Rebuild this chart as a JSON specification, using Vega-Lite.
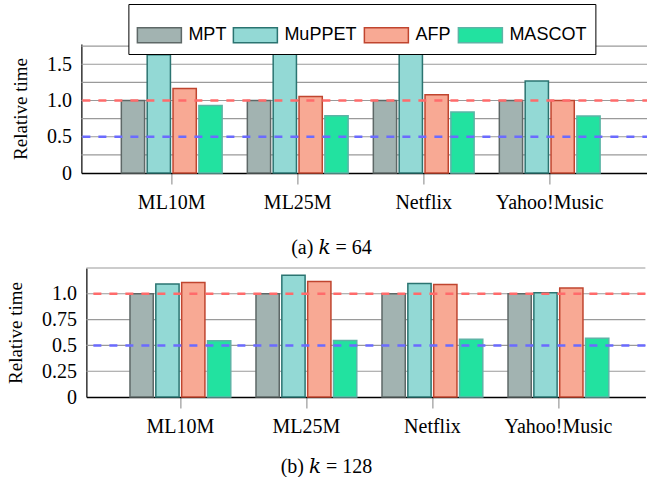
{
  "$schema": "https://vega.github.io/schema/vega-lite/v6.json",
  "padding": {"left": 6, "top": 3, "right": 0, "bottom": 0},
  "background": "white",
  "datasets": {
    "k64": [
      {"dataset": "ML10M", "method": "MPT", "value": 1.0},
      {"dataset": "ML10M", "method": "MuPPET", "value": 1.63},
      {"dataset": "ML10M", "method": "AFP", "value": 1.165},
      {"dataset": "ML10M", "method": "MASCOT", "value": 0.93},
      {"dataset": "ML25M", "method": "MPT", "value": 1.0},
      {"dataset": "ML25M", "method": "MuPPET", "value": 1.735},
      {"dataset": "ML25M", "method": "AFP", "value": 1.055},
      {"dataset": "ML25M", "method": "MASCOT", "value": 0.79},
      {"dataset": "Netflix", "method": "MPT", "value": 1.0},
      {"dataset": "Netflix", "method": "MuPPET", "value": 1.765},
      {"dataset": "Netflix", "method": "AFP", "value": 1.08},
      {"dataset": "Netflix", "method": "MASCOT", "value": 0.84},
      {"dataset": "Yahoo!Music", "method": "MPT", "value": 1.0},
      {"dataset": "Yahoo!Music", "method": "MuPPET", "value": 1.27},
      {"dataset": "Yahoo!Music", "method": "AFP", "value": 1.0},
      {"dataset": "Yahoo!Music", "method": "MASCOT", "value": 0.785}
    ],
    "k128": [
      {"dataset": "ML10M", "method": "MPT", "value": 1.0},
      {"dataset": "ML10M", "method": "MuPPET", "value": 1.095},
      {"dataset": "ML10M", "method": "AFP", "value": 1.11},
      {"dataset": "ML10M", "method": "MASCOT", "value": 0.545},
      {"dataset": "ML25M", "method": "MPT", "value": 1.0},
      {"dataset": "ML25M", "method": "MuPPET", "value": 1.18},
      {"dataset": "ML25M", "method": "AFP", "value": 1.12},
      {"dataset": "ML25M", "method": "MASCOT", "value": 0.548},
      {"dataset": "Netflix", "method": "MPT", "value": 1.0},
      {"dataset": "Netflix", "method": "MuPPET", "value": 1.1},
      {"dataset": "Netflix", "method": "AFP", "value": 1.09},
      {"dataset": "Netflix", "method": "MASCOT", "value": 0.56},
      {"dataset": "Yahoo!Music", "method": "MPT", "value": 1.0},
      {"dataset": "Yahoo!Music", "method": "MuPPET", "value": 1.01},
      {"dataset": "Yahoo!Music", "method": "AFP", "value": 1.055},
      {"dataset": "Yahoo!Music", "method": "MASCOT", "value": 0.57}
    ],
    "grid64": [{"g": 0.25}, {"g": 0.5}, {"g": 0.75}, {"g": 1.0}, {"g": 1.25}, {"g": 1.5}, {"g": 1.75}],
    "grid128": [{"g": 0.25}, {"g": 0.5}, {"g": 0.75}, {"g": 1.0}, {"g": 1.25}]
  },
  "spacing": 9,
  "center": true,
  "resolve": {
    "scale": {"fill": "independent", "stroke": "independent", "y": "independent", "x": "independent"},
    "legend": {"fill": "independent", "stroke": "independent"}
  },
  "vconcat": [
    {
      "width": 569,
      "height": 129,
      "title": {"text": "(a) 𝑘 = 64", "orient": "bottom", "offset": 26, "anchor": "middle", "frame": "bounds"},
      "layer": [
        {
          "data": {"name": "grid64"},
          "mark": {"type": "rule", "color": "#9a9a9a", "strokeWidth": 1.1},
          "encoding": {"y": {"field": "g", "type": "quantitative", "title": "Relative time",
                  "scale": {"domain": [0, 1.78], "nice": false},
                  "axis": {"values": [0, 0.5, 1, 1.5], "labelOverlap": false,
                           "labelExpr": "datum.value == 0 ? '0' : format(datum.value, '.1f')"}}}
        },
        {
          "data": {"name": "k64"},
          "mark": {"type": "bar", "strokeWidth": 1.5},
          "encoding": {
            "x": {"field": "dataset", "type": "nominal", "sort": ["ML10M", "ML25M", "Netflix", "Yahoo!Music"],
                  "scale": {"paddingInner": 0.2, "paddingOuter": 0.358, "align": 0.443}, "title": null},
            "xOffset": {"field": "method", "type": "nominal", "sort": ["MPT", "MuPPET", "AFP", "MASCOT"],
                        "scale": {"paddingInner": 0.1, "paddingOuter": 0}},
            "y": {"field": "value", "type": "quantitative", "title": "Relative time",
                  "axis": {"values": [0, 0.5, 1, 1.5], "labelOverlap": false,
                           "labelExpr": "datum.value == 0 ? '0' : format(datum.value, '.1f')"}},
            "fill": {"field": "method", "type": "nominal",
                     "scale": {"domain": ["MPT", "MuPPET", "AFP", "MASCOT"], "range": ["#a2b3b1", "#93d9d5", "#f8a994", "#22e2a0"]},
                     "legend": {"orient": "none", "legendX": 47, "legendY": -40, "direction": "horizontal", "columns": 4, "title": null}},
            "stroke": {"field": "method", "type": "nominal",
                       "scale": {"domain": ["MPT", "MuPPET", "AFP", "MASCOT"], "range": ["#5e6867", "#2b7471", "#c0452f", "#5db4a6"]},
                       "legend": {"orient": "none", "legendX": 47, "legendY": -40, "direction": "horizontal", "columns": 4, "title": null}}
          }
        },
        {
          "data": {"values": [{}]},
          "mark": {"type": "rule", "color": "#ff6b6b", "strokeDash": [8, 8], "strokeWidth": 2.5},
          "encoding": {"y": {"datum": 1, "type": "quantitative", "title": "Relative time",
                  "axis": {"values": [0, 0.5, 1, 1.5], "labelOverlap": false,
                           "labelExpr": "datum.value == 0 ? '0' : format(datum.value, '.1f')"}}}
        },
        {
          "data": {"values": [{}]},
          "mark": {"type": "rule", "color": "#6b6bff", "strokeDash": [8, 8], "strokeWidth": 2.5},
          "encoding": {"y": {"datum": 0.5, "type": "quantitative", "title": "Relative time",
                  "axis": {"values": [0, 0.5, 1, 1.5], "labelOverlap": false,
                           "labelExpr": "datum.value == 0 ? '0' : format(datum.value, '.1f')"}}}
        }
      ]
    },
    {
      "width": 559,
      "height": 129,
      "title": {"text": "(b) 𝑘 = 128", "orient": "bottom", "offset": 21, "anchor": "middle", "frame": "bounds"},
      "layer": [
        {
          "data": {"name": "grid128"},
          "mark": {"type": "rule", "color": "#9a9a9a", "strokeWidth": 1.1},
          "encoding": {"y": {"field": "g", "type": "quantitative", "title": "Relative time",
                  "scale": {"domain": [0, 1.25], "nice": false},
                  "axis": {"values": [0, 0.25, 0.5, 0.75, 1], "labelOverlap": false,
                           "labelExpr": "datum.value == 0 ? '0' : (datum.value == 1 ? '1.0' : '' + datum.value)"}}}
        },
        {
          "data": {"name": "k128"},
          "mark": {"type": "bar", "strokeWidth": 1.5},
          "encoding": {
            "x": {"field": "dataset", "type": "nominal", "sort": ["ML10M", "ML25M", "Netflix", "Yahoo!Music"],
                  "scale": {"paddingInner": 0.2, "paddingOuter": 0.318, "align": 0.544}, "title": null},
            "xOffset": {"field": "method", "type": "nominal", "sort": ["MPT", "MuPPET", "AFP", "MASCOT"],
                        "scale": {"paddingInner": 0.1, "paddingOuter": 0}},
            "y": {"field": "value", "type": "quantitative", "title": "Relative time",
                  "axis": {"values": [0, 0.25, 0.5, 0.75, 1], "labelOverlap": false,
                           "labelExpr": "datum.value == 0 ? '0' : (datum.value == 1 ? '1.0' : '' + datum.value)"}},
            "fill": {"field": "method", "type": "nominal",
                     "scale": {"domain": ["MPT", "MuPPET", "AFP", "MASCOT"], "range": ["#a2b3b1", "#93d9d5", "#f8a994", "#22e2a0"]},
                     "legend": null},
            "stroke": {"field": "method", "type": "nominal",
                       "scale": {"domain": ["MPT", "MuPPET", "AFP", "MASCOT"], "range": ["#5e6867", "#2b7471", "#c0452f", "#5db4a6"]},
                       "legend": null}
          }
        },
        {
          "data": {"values": [{}]},
          "mark": {"type": "rule", "color": "#ff6b6b", "strokeDash": [8, 8], "strokeWidth": 2.5},
          "encoding": {"y": {"datum": 1, "type": "quantitative", "title": "Relative time",
                  "axis": {"values": [0, 0.25, 0.5, 0.75, 1], "labelOverlap": false,
                           "labelExpr": "datum.value == 0 ? '0' : (datum.value == 1 ? '1.0' : '' + datum.value)"}}}
        },
        {
          "data": {"values": [{}]},
          "mark": {"type": "rule", "color": "#6b6bff", "strokeDash": [8, 8], "strokeWidth": 2.5},
          "encoding": {"y": {"datum": 0.5, "type": "quantitative", "title": "Relative time",
                  "axis": {"values": [0, 0.25, 0.5, 0.75, 1], "labelOverlap": false,
                           "labelExpr": "datum.value == 0 ? '0' : (datum.value == 1 ? '1.0' : '' + datum.value)"}}}
        }
      ]
    }
  ],
  "config": {
    "view": {"stroke": null},
    "font": "Liberation Serif",
    "title": {"font": "Liberation Serif, DejaVu Serif", "fontSize": 20, "fontWeight": "normal", "color": "black"},
    "axis": {"labelFont": "Liberation Serif", "titleFont": "Liberation Serif", "labelColor": "black", "titleColor": "black",
             "labelFontSize": 20, "titleFontSize": 19, "titleFontWeight": "normal", "domainColor": "black"},
    "axisX": {"labelAngle": 0, "tickSize": 11, "tickColor": "#999999", "tickWidth": 1.2, "labelPadding": 8, "domainWidth": 1.5, "grid": false},
    "axisY": {"grid": false, "ticks": false, "labelPadding": 10, "titlePadding": 16, "domainWidth": 1.2},
    "legend": {"labelFont": "Liberation Sans", "labelFontSize": 18, "labelColor": "black",
               "symbolType": "M-1,-0.341H1V0.341H-1Z", "symbolSize": 1936, "symbolStrokeWidth": 1.5, "symbolOpacity": 1,
               "labelOffset": 6, "columnPadding": 4, "padding": 8, "strokeColor": "black", "fillColor": "white"}
  }
}
